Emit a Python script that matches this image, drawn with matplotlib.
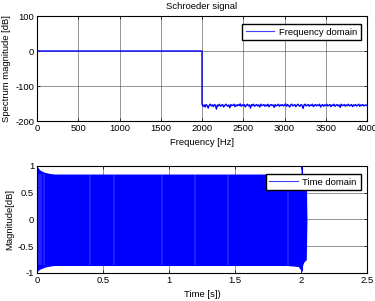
import matplotlib.pyplot as plt
import numpy as np
from matplotlib.lines import Line2D

plt.rcParams["font.family"] = ["Liberation Sans", "DejaVu Sans"]
plt.rcParams["font.size"] = 6.8
plt.rcParams["axes.unicode_minus"] = False

# frequency domain: DC bin, flat passband, noisy stop band
pass_freq = [0, 3, 1998, 2000]
pass_db = [-160, 0, 0, 0]
stop_db = [
    -152, -158, -154, -160, -153, -156, -163, -155, -152, -157,
    -154, -159, -153, -155, -166, -154, -157, -152, -158, -155,
    -153, -160, -156, -152, -155, -158, -154, -162, -153, -156,
    -155, -152, -159, -154, -157, -153, -156, -151, -158, -154,
    -156, -153, -160, -155, -152, -157, -154, -163, -153, -156,
    -152, -158, -155, -153, -157, -154, -160, -152, -156, -155,
    -153, -158, -154, -157, -152, -159, -155, -153, -156, -154,
    -161, -153, -157, -155, -152, -158, -154, -156, -153, -157,
    -155, -151, -158, -153, -156, -160, -154, -152, -157, -155,
    -153, -159, -155, -152, -156, -158, -153, -155, -164, -154,
    -152, -157, -155, -153, -158, -154, -156, -152, -159, -155,
    -153, -157, -154, -156, -152, -160, -155, -153, -158, -154,
    -156, -152, -157, -155, -153, -159, -154, -156, -152, -158,
    -155, -153, -157, -154, -161, -152, -156, -155, -153, -158,
    -154, -156, -152, -157, -155, -153, -159, -154, -156, -153,
    -157, -155, -152, -158, -154, -156, -153, -157, -155, -154, -156,
]
stop_freq = np.linspace(2000, 4000, len(stop_db))

# time domain: envelope of the dense Schroeder waveform
env_t = [0.0, 0.005, 0.02, 0.04, 0.06, 0.08, 0.1, 0.13, 0.5, 1.0, 1.5, 1.9, 1.98, 2.0, 2.02, 2.04, 2.045]
env_hi = [1.0, 0.98, 0.93, 0.9, 0.88, 0.87, 0.86, 0.85, 0.85, 0.85, 0.85, 0.85, 0.85, 0.85, 0.85, 0.85, 0.0]
env_lo = [-0.97, -0.96, -0.93, -0.91, -0.89, -0.88, -0.87, -0.86, -0.86, -0.86, -0.86, -0.86, -0.88, -0.95, -0.8, -0.75, 0.0]
streak_t = [0.015, 0.03, 0.05, 0.4, 0.58, 0.95, 1.2, 1.45, 1.9]
spike_t = 2.005
spike_amp = 1.0

fig = plt.figure(figsize=(3.75, 3.01), dpi=100)
ax1 = fig.add_axes([37 / 375, 1 - 121 / 301, 330 / 375, 105 / 301])
ax2 = fig.add_axes([37 / 375, 1 - 273 / 301, 330 / 375, 107 / 301])

grid_kw = dict(color="#444444", lw=0.5, alpha=0.8)

ax1.plot(pass_freq + list(stop_freq), pass_db + stop_db, color="#0000ff", lw=1.0)
ax1.set_xlim(0, 4000)
ax1.set_ylim(-200, 100)
ax1.set_xticks(range(0, 4001, 500))
ax1.set_yticks([-200, -100, 0, 100])
ax1.set_title("Schroeder signal", fontsize=6.8, pad=5)
ax1.set_xlabel("Frequency [Hz]", labelpad=4)
ax1.set_ylabel("Spectrum magnitude [dB]", labelpad=3)

ax2.fill_between(env_t, env_lo, env_hi, color="#0000ff", lw=0)
for t in streak_t:
    ax2.vlines(t, -0.85, 0.85, color="#a0a0ff", lw=0.3)
ax2.vlines(spike_t, -0.97, spike_amp, color="#0000ff", lw=0.8)
ax2.set_xlim(0, 2.5)
ax2.set_ylim(-1, 1)
ax2.set_xticks([0, 0.5, 1, 1.5, 2, 2.5])
ax2.set_xticklabels(["0", "0.5", "1", "1.5", "2", "2.5"])
ax2.set_yticks([-1, -0.5, 0, 0.5, 1])
ax2.set_yticklabels(["-1", "-0.5", "0", "0.5", "1"])
ax2.set_xlabel("Time [s])", labelpad=4)
ax2.set_ylabel("Magnitude[dB]", labelpad=3)

for ax in (ax1, ax2):
    ax.grid(True, **grid_kw)
    ax.set_axisbelow(True)
    ax.tick_params(direction="in", length=2, width=0.5, top=True, right=True, pad=2)
    for s in ax.spines.values():
        s.set_linewidth(0.8)

h1 = [Line2D([0], [0], color="#4040ff", lw=0.8)]
leg_kw = dict(loc="upper right", fancybox=False, edgecolor="black", framealpha=1,
              borderpad=0.4, handlelength=3, handletextpad=0.5,
              bbox_to_anchor=(0.995, 0.97))
ax1.legend(h1, ["Frequency domain"], **leg_kw)
ax2.legend(h1, ["Time domain"], **leg_kw)

fig.savefig("out.png", dpi=100)
